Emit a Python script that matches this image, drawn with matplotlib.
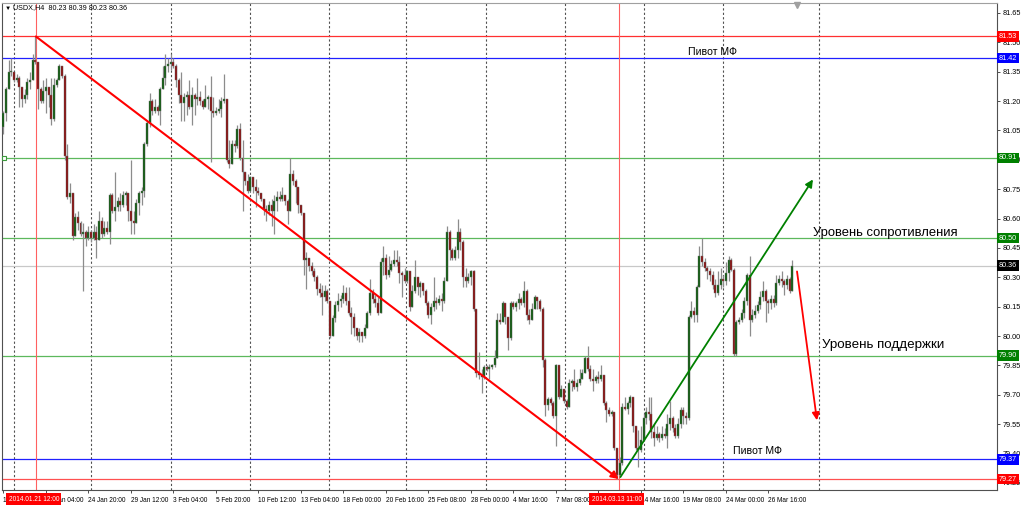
import matplotlib
matplotlib.use('Agg')
import matplotlib.pyplot as plt
from matplotlib.transforms import blended_transform_factory
import numpy as np

plt.rcParams['font.family'] = ['Liberation Sans', 'DejaVu Sans']

# USDX H4 candles, 17 Jan 2014 12:00 .. 27 Mar 2014 (open = previous close)
first_open = 81.07
closes = [
    81.14, 81.26, 81.35, 81.35, 81.31, 81.32, 81.27, 81.21, 81.23, 81.30,
    81.31, 81.41, 81.40, 81.26, 81.20, 81.25, 81.27, 81.23, 81.11, 81.28,
    81.31, 81.38, 81.33, 80.92, 80.71, 80.73, 80.51, 80.61, 80.58, 80.52,
    80.53, 80.50, 80.53, 80.50, 80.53, 80.49, 80.59, 80.52, 80.55, 80.53,
    80.72, 80.64, 80.66, 80.69, 80.67, 80.72, 80.73, 80.64, 80.59, 80.58,
    80.68, 80.73, 80.74, 80.98, 81.09, 81.20, 81.15, 81.17, 81.15, 81.26,
    81.32, 81.38, 81.39, 81.40, 81.38, 81.31, 81.23, 81.19, 81.22, 81.23,
    81.17, 81.23, 81.21, 81.22, 81.20, 81.17, 81.21, 81.22, 81.15, 81.14,
    81.15, 81.16, 81.20, 81.21, 80.90, 80.88, 80.98, 80.97, 81.06, 80.91,
    80.84, 80.79, 80.74, 80.81, 80.76, 80.74, 80.73, 80.70, 80.65, 80.64,
    80.67, 80.64, 80.69, 80.71, 80.70, 80.72, 80.69, 80.64, 80.83, 80.79,
    80.76, 80.67, 80.63, 80.39, 80.40, 80.36, 80.33, 80.30, 80.24, 80.22,
    80.20, 80.23, 80.18, 80.00, 80.09, 80.16, 80.18, 80.19, 80.22, 80.18,
    80.12, 80.10, 80.04, 80.00, 80.02, 80.00, 80.04, 80.12, 80.22, 80.19,
    80.17, 80.12, 80.38, 80.40, 80.31, 80.34, 80.37, 80.39, 80.38, 80.32,
    80.31, 80.28, 80.33, 80.15, 80.23, 80.30, 80.25, 80.27, 80.23, 80.17,
    80.11, 80.15, 80.18, 80.17, 80.19, 80.18, 80.28, 80.53, 80.44, 80.40,
    80.44, 80.53, 80.48, 80.30, 80.28, 80.30, 80.33, 80.14, 79.81, 79.80,
    79.79, 79.84, 79.83, 79.84, 79.85, 79.89, 80.08, 80.07, 80.17, 80.10,
    79.99, 80.17, 80.15, 80.17, 80.19, 80.17, 80.23, 80.11, 80.08, 80.14,
    80.20, 80.18, 80.14, 79.88, 79.65, 79.68, 79.66, 79.59, 79.85, 79.69,
    79.73, 79.67, 79.64, 79.76, 79.77, 79.74, 79.76, 79.78, 79.81, 79.89,
    79.83, 79.78, 79.77, 79.79, 79.78, 79.80, 79.66, 79.62, 79.60, 79.61,
    79.43, 79.29, 79.35, 79.64, 79.63, 79.66, 79.69, 79.54, 79.43, 79.42,
    79.47, 79.58, 79.61, 79.60, 79.51, 79.48, 79.50, 79.48, 79.50, 79.49,
    79.55, 79.58, 79.53, 79.49, 79.55, 79.62, 79.59, 79.58, 80.10, 80.13,
    80.11, 80.25, 80.41, 80.38, 80.35, 80.33, 80.31, 80.26, 80.22, 80.26,
    80.29, 80.28, 80.32, 80.39, 80.34, 79.91, 80.07, 80.08, 80.12, 80.18,
    80.31, 80.08, 80.11, 80.13, 80.16, 80.20, 80.23, 80.18, 80.17, 80.19,
    80.17, 80.27, 80.29, 80.28, 80.26, 80.29, 80.23, 80.36,
]
highs = [
    81.15, 81.27, 81.41, 81.42, 81.35, 81.34, 81.33, 81.27, 81.26, 81.32,
    81.35, 81.44, 81.53, 81.36, 81.27, 81.31, 81.32, 81.27, 81.32, 81.32,
    81.32, 81.39, 81.38, 81.34, 80.98, 80.78, 80.70, 80.63, 80.64, 80.59,
    80.58, 80.54, 80.56, 80.54, 80.57, 80.56, 80.64, 80.61, 80.59, 80.59,
    80.73, 80.73, 80.84, 80.71, 80.73, 80.74, 80.74, 80.73, 80.90, 80.64,
    80.70, 80.74, 80.76, 80.99, 81.10, 81.24, 81.21, 81.21, 81.18, 81.27,
    81.38, 81.44, 81.42, 81.44, 81.42, 81.39, 81.32, 81.35, 81.24, 81.25,
    81.31, 81.27, 81.24, 81.32, 81.25, 81.21, 81.28, 81.23, 81.33, 81.22,
    81.17, 81.21, 81.22, 81.34, 81.21, 81.00, 81.00, 81.00, 81.08, 81.09,
    81.00, 80.82, 80.83, 80.82, 80.81, 80.80, 80.76, 80.73, 80.69, 80.67,
    80.69, 80.70, 80.72, 80.74, 80.74, 80.76, 80.72, 80.70, 80.91, 80.85,
    80.80, 80.76, 80.67, 80.63, 80.43, 80.40, 80.38, 80.35, 80.31, 80.27,
    80.26, 80.26, 80.24, 80.18, 80.11, 80.18, 80.22, 80.21, 80.26, 80.25,
    80.25, 80.15, 80.12, 80.03, 80.04, 80.02, 80.06, 80.13, 80.29, 80.24,
    80.21, 80.20, 80.40, 80.46, 80.42, 80.41, 80.39, 80.44, 80.44, 80.41,
    80.33, 80.35, 80.34, 80.31, 80.26, 80.39, 80.30, 80.28, 80.26, 80.24,
    80.18, 80.17, 80.30, 80.20, 80.21, 80.22, 80.30, 80.56, 80.54, 80.45,
    80.46, 80.60, 80.55, 80.49, 80.35, 80.32, 80.34, 80.34, 80.14, 79.92,
    79.83, 79.85, 79.85, 79.86, 79.86, 79.93, 80.12, 80.12, 80.18, 80.16,
    80.10, 80.18, 80.18, 80.18, 80.22, 80.20, 80.28, 80.24, 80.14, 80.17,
    80.21, 80.20, 80.19, 80.15, 79.89, 79.69, 79.69, 79.67, 79.86, 79.85,
    79.75, 79.71, 79.68, 79.78, 79.78, 79.83, 79.78, 79.83, 79.83, 79.90,
    79.95, 79.85, 79.83, 79.80, 79.82, 79.85, 79.80, 79.67, 79.64, 79.62,
    79.61, 79.43, 79.38, 79.66, 79.69, 79.67, 79.70, 79.69, 79.54, 79.52,
    79.54, 79.60, 79.64, 79.69, 79.69, 79.55, 79.54, 79.51, 79.54, 79.53,
    79.60, 79.67, 79.59, 79.55, 79.58, 79.64, 79.64, 79.61, 80.11, 80.18,
    80.15, 80.26, 80.46, 80.50, 80.40, 80.36, 80.35, 80.33, 80.29, 80.33,
    80.35, 80.31, 80.38, 80.41, 80.40, 80.35, 80.08, 80.10, 80.14, 80.20,
    80.32, 80.41, 80.14, 80.16, 80.18, 80.23, 80.28, 80.24, 80.19, 80.21,
    80.21, 80.31, 80.31, 80.33, 80.29, 80.31, 80.30, 80.39,
]
lows = [
    81.03, 81.10, 81.26, 81.33, 81.30, 81.30, 81.17, 81.17, 81.19, 81.21,
    81.26, 81.31, 81.39, 81.16, 81.19, 81.19, 81.14, 81.17, 81.08, 81.10,
    81.27, 81.32, 81.32, 80.90, 80.70, 80.68, 80.49, 80.56, 80.54, 80.51,
    80.23, 80.46, 80.49, 80.48, 80.49, 80.40, 80.49, 80.50, 80.51, 80.52,
    80.47, 80.63, 80.59, 80.64, 80.64, 80.66, 80.67, 80.59, 80.52, 80.52,
    80.60, 80.62, 80.67, 80.71, 80.97, 81.07, 81.13, 81.14, 81.13, 81.08,
    81.27, 81.28, 81.35, 81.36, 81.37, 81.27, 81.19, 81.10, 81.10, 81.13,
    81.16, 81.08, 81.13, 81.18, 81.18, 81.16, 81.17, 81.16, 80.89, 81.12,
    81.13, 81.14, 81.12, 81.19, 80.89, 80.86, 80.88, 80.94, 80.96, 80.90,
    80.64, 80.77, 80.73, 80.77, 80.73, 80.66, 80.72, 80.69, 80.62, 80.59,
    80.62, 80.56, 80.52, 80.64, 80.69, 80.69, 80.67, 80.57, 80.64, 80.77,
    80.68, 80.63, 80.62, 80.31, 80.24, 80.33, 80.31, 80.28, 80.21, 80.20,
    80.11, 80.18, 80.17, 79.99, 80.00, 80.07, 80.13, 80.15, 80.17, 80.16,
    80.11, 80.01, 80.00, 79.98, 79.97, 79.97, 79.99, 80.05, 80.11, 80.17,
    80.15, 80.11, 80.12, 80.31, 80.29, 80.30, 80.33, 80.36, 80.36, 80.27,
    80.20, 80.27, 80.27, 80.13, 80.16, 80.22, 80.21, 80.20, 80.21, 80.16,
    80.09, 80.06, 80.13, 80.14, 80.16, 80.13, 80.17, 80.28, 80.39, 80.39,
    80.39, 80.40, 80.44, 80.25, 80.25, 80.27, 80.26, 80.13, 79.79, 79.78,
    79.71, 79.78, 79.82, 79.78, 79.83, 79.84, 79.89, 80.06, 80.08, 80.06,
    79.93, 79.98, 80.14, 80.13, 80.14, 80.16, 80.15, 80.08, 80.06, 80.09,
    80.14, 80.14, 80.13, 79.84, 79.59, 79.62, 79.65, 79.58, 79.44, 79.68,
    79.69, 79.66, 79.63, 79.65, 79.72, 79.73, 79.72, 79.75, 79.78, 79.81,
    79.82, 79.77, 79.72, 79.76, 79.76, 79.77, 79.65, 79.56, 79.59, 79.59,
    79.42, 79.27, 79.29, 79.34, 79.62, 79.60, 79.64, 79.51, 79.42, 79.33,
    79.41, 79.52, 79.55, 79.57, 79.48, 79.44, 79.47, 79.46, 79.47, 79.48,
    79.43, 79.52, 79.51, 79.48, 79.48, 79.53, 79.55, 79.55, 79.57, 80.09,
    80.07, 80.07, 80.25, 80.36, 80.33, 80.29, 80.28, 80.24, 80.20, 80.21,
    80.24, 80.25, 80.26, 80.28, 80.33, 79.90, 79.90, 80.06, 80.07, 80.09,
    80.16, 80.00, 80.07, 80.09, 80.12, 80.14, 80.18, 80.07, 80.12, 80.14,
    80.15, 80.16, 80.26, 80.25, 80.21, 80.24, 80.22, 80.23,
]

# levels drawn on the chart
levels = [81.53, 81.42, 80.91, 80.50, 79.90, 79.37, 79.27]
level_colors = ['#ff3030', '#2020ff', '#5cb85c', '#5cb85c', '#5cb85c', '#2020ff', '#ff5050']
label_colors = ['#ff0000', '#0000ff', '#008000', '#008000', '#008000', '#0000ff', '#ff0000']
bid = 80.36

yticks = [81.65, 81.50, 81.35, 81.20, 81.05, 80.90, 80.75, 80.60, 80.45,
          80.30, 80.15, 80.00, 79.85, 79.70, 79.55, 79.40, 79.25]
xtick_bars = [0, 16, 32, 48, 64, 80, 96, 112, 128, 144, 160, 176, 192, 208,
              224, 240, 256, 272, 288]
xtick_labels = ['17 Jan 2014', '22 Jan 04:00', '24 Jan 20:00', '29 Jan 12:00',
                '3 Feb 04:00', '5 Feb 20:00', '10 Feb 12:00', '13 Feb 04:00',
                '18 Feb 00:00', '20 Feb 16:00', '25 Feb 08:00', '28 Feb 00:00',
                '4 Mar 16:00', '7 Mar 08:00', '12 Mar 00:00', '14 Mar 16:00',
                '19 Mar 08:00', '24 Mar 00:00', '26 Mar 16:00']
grid_bars = [3.95, 32.9, 63.1, 92.8, 122.6, 151.5, 181.7, 211.4, 241.1, 270.9, 307.0]
vline_bars = [12.2, 231.7]
vline_labels = ['2014.01.21 12:00', '2014.03.13 11:00']

closes = np.array(closes)
opens = np.concatenate([[first_open], closes[:-1]])
highs = np.maximum(np.array(highs), np.maximum(opens, closes))
lows = np.minimum(np.array(lows), np.minimum(opens, closes))
x = np.arange(len(closes))

fs = 5.2  # small MT4 style labels
fsx = 4.7

fig = plt.figure(figsize=(10.24, 5.05), dpi=100)
ax = fig.add_axes([2 / 1024, 15 / 505, 995 / 1024, 487 / 505])
ax.set_xlim(-0.56, 374.1)
ax.set_ylim(79.214, 81.701)

# grid and lines
for gb in grid_bars:
    ax.axvline(gb, color='#505050', lw=0.8, ls=(0, (2, 2)), zorder=1)
for lv, c in zip(levels, level_colors):
    ax.axhline(lv, color=c, lw=0.9, zorder=2)
ax.axhline(bid, color='#c8c8c8', lw=0.9, zorder=2)
for vb in vline_bars:
    ax.axvline(vb, color='#ff6060', lw=0.8, zorder=2)
ax.plot([0.2], [80.91], marker='s', ms=3, mfc='white', mec='#3a9a3a', mew=0.8, zorder=5, clip_on=False)

# candles
ax.vlines(x, lows, highs, color='#8c8c8c', lw=0.9, zorder=3)
up = closes >= opens
body_bottom = np.minimum(opens, closes)
body_h = np.maximum(np.abs(closes - opens), 0.004)
ax.bar(x, body_h, bottom=body_bottom, width=0.75,
       color=np.where(up, '#0b5a0b', '#8a0c0c'), edgecolor='#707070', lw=0.3, zorder=4)

# trend arrows
ax.annotate('', xy=(231.7, 79.27), xytext=(12.2, 81.53),
            arrowprops=dict(arrowstyle='-|>', color='#ff0000', lw=1.5, mutation_scale=11,
                            shrinkA=0, shrinkB=0), zorder=6)
ax.annotate('', xy=(304.8, 80.80), xytext=(232.3, 79.28),
            arrowprops=dict(arrowstyle='-|>', color='#008000', lw=1.3, mutation_scale=11,
                            shrinkA=0, shrinkB=0), zorder=6)
ax.annotate('', xy=(306.3, 79.57), xytext=(298.8, 80.33),
            arrowprops=dict(arrowstyle='-|>', color='#ff0000', lw=1.3, mutation_scale=11,
                            shrinkA=0, shrinkB=0), zorder=6)

# text labels
ax.text(257.7, 81.45, 'Пивот МФ', fontsize=7.6, va='center', ha='left')
ax.text(304.8, 80.526, 'Уровень сопротивления', fontsize=9.4, va='center', ha='left')
ax.text(308.2, 79.954, 'Уровень поддержки', fontsize=9.6, va='center', ha='left')
ax.text(274.7, 79.413, 'Пивот МФ', fontsize=7.6, va='center', ha='left')

# axes styling
for s in ax.spines.values():
    s.set_color('#505050')
    s.set_linewidth(0.8)
ax.spines['top'].set_color('#a0a0a0')
ax.yaxis.tick_right()
ax.set_yticks(yticks)
ax.set_yticklabels(['%.2f' % v for v in yticks])
ax.set_xticks(xtick_bars)
ax.set_xticklabels(xtick_labels, ha='left')
ax.tick_params(axis='both', labelsize=fs, length=2.5, width=0.6, color='#303030', pad=1.5)
ax.tick_params(axis='x', labelsize=fsx, pad=2.5)

trans_r = blended_transform_factory(ax.transAxes, ax.transData)
for lv, c in zip(levels, label_colors):
    ax.text(1.002, lv, '%.2f' % lv, transform=trans_r, fontsize=fs, color='white',
            va='center', ha='left', zorder=10, clip_on=False,
            bbox=dict(boxstyle='square,pad=0.25', fc=c, ec='none'))
ax.text(1.002, bid, '%.2f' % bid, transform=trans_r, fontsize=fs, color='white',
        va='center', ha='left', zorder=10, clip_on=False,
        bbox=dict(boxstyle='square,pad=0.25', fc='black', ec='none'))

trans_b = blended_transform_factory(ax.transData, ax.transAxes)
for vb, lab in zip(vline_bars, vline_labels):
    ax.text(vb - 0.8, -0.0115, lab, transform=trans_b, fontsize=fsx, color='white',
            va='top', ha='center', zorder=10, clip_on=False,
            bbox=dict(boxstyle='square,pad=0.35', fc='#ff0000', ec='none'))

ax.plot([298.8], [81.69], marker='v', ms=4, color='#a0a0a0', zorder=7, clip_on=False)

fig.text(5 / 1024, 1 - 8 / 505, '▼', fontsize=4.5, va='center', ha='left')
fig.text(13 / 1024, 1 - 8 / 505, 'USDX,H4  80.23 80.39 80.23 80.36', fontsize=fs,
         va='center', ha='left')

fig.savefig('out.png', dpi=100)
